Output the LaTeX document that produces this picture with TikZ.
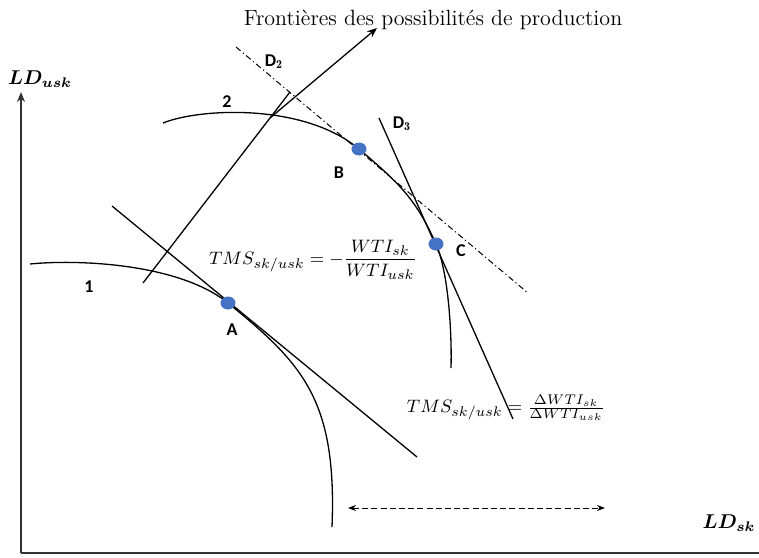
\documentclass[tikz,border=0pt]{standalone}
\usepackage{amsmath,amssymb}
\usepackage{bm}
\usepackage{fontspec}
\newfontfamily\lblfont{Carlito}
\usetikzlibrary{arrows.meta,shapes.geometric,positioning,calc}
\definecolor{dotblue}{HTML}{4472C4}
\tikzset{
  axis/.style={line width=0.9pt,draw=black!80},
  curve/.style={line width=0.65pt},
  tline/.style={line width=0.65pt},
  dot/.style={ellipse,fill=dotblue,inner sep=0pt,minimum width=7.5pt,minimum height=6.5pt},
  lbl/.style={font=\lblfont\bfseries\fontsize{9}{11}\selectfont},
  tms/.style={font=\fontsize{9.5}{11}\selectfont}
}

\begin{document}
\begin{tikzpicture}[x=0.5pt,y=-0.5pt]
      \useasboundingbox (0,0) rectangle (759,557);

      % Axes
      \coordinate (O) at (21,553);
      \coordinate (ytop) at (21,92);
      \coordinate (xend) at (759,553);
      \draw[axis,-{Stealth[length=5pt,width=4pt]}] (O) -- (ytop);
      \draw[axis] (O) -- (xend);
      \node (ldusk) at (40,79) {$\bm{LD_{usk}}$};
      \node (ldsk) at (729,523) {$\bm{LD_{sk}}$};

      % Frontier 1
      \coordinate (pA) at (228,303);
      \draw[curve] (30,264) .. controls (80,259) and (180,264) .. (pA)
        .. controls (303,364) and (337,400) .. (332,527);
      % Frontier 2
      \coordinate (pB) at (359,149);
      \coordinate (pC) at (436,244);
      \draw[curve] (163,123) .. controls (200,108) and (304,103) .. (pB)
        .. controls (399,183) and (416,199) .. (pC)
        .. controls (448,271) and (452,330) .. (451,368);

      \node[lbl] (lab1) at (89,287) {1};
      \node[lbl] (lab2) at (227,102) {2};

      % Tangents
      \coordinate (t1) at (112,206);
      \coordinate (t2) at (417,457);
      \draw[tline] (t1) -- (t2);
      \coordinate (d2a) at (236,47);
      \coordinate (d2b) at (528,293);
      \draw[tline,line width=0.5pt,dash pattern=on 3pt off 1.5pt on 0.6pt off 1.5pt] (d2a) -- (d2b);
      \node[lbl] (labD2) at (274,62) {D$_{\mathbf 2}$};
      \coordinate (d3a) at (379,118);
      \coordinate (d3b) at (513,419);
      \draw[tline] (d3a) -- (d3b);
      \node[lbl] (labD3) at (402,124) {D$_{\mathbf 3}$};

      % Points
      \node[dot] (A) at (pA) {};
      \node[dot] (B) at (pB) {};
      \node[dot] (C) at (pC) {};
      \node[lbl] (labA) at (232,330) {A};
      \node[lbl] (labB) at (339,173) {B};
      \node[lbl] (labC) at (461,251) {C};

      % Title and pointer
      \node (title) at (433,20) {\fontsize{11}{13}\selectfont Fronti\`eres des possibilit\'es de production};
      \coordinate (f0) at (143,283);
      \coordinate (f1) at (290,92);
      \coordinate (f2) at (270,118);
      \coordinate (f3) at (377,28);
      \draw[tline] (f0) -- (f1);
      \draw[tline,-{Stealth[length=5pt,width=4pt]}] (f2) -- (f3);

      % Slopes
      \node[tms] (tms1) at (313,260) {$TMS_{sk/usk} = -\dfrac{WTI_{sk}}{WTI_{usk}}$};
      \node[tms] (tms2) at (506,408) {$TMS_{sk/usk} = \tfrac{\Delta WTI_{sk}}{\Delta WTI_{usk}}$};

      % Shift
      \coordinate (s0) at (348,508);
      \coordinate (s1) at (605,508);
      \draw[line width=0.5pt,dash pattern=on 3pt off 1.6pt,{Stealth[length=4pt,width=3pt]}-{Stealth[length=4pt,width=3pt]}] (s0) -- (s1);
    \end{tikzpicture}
\end{document}
